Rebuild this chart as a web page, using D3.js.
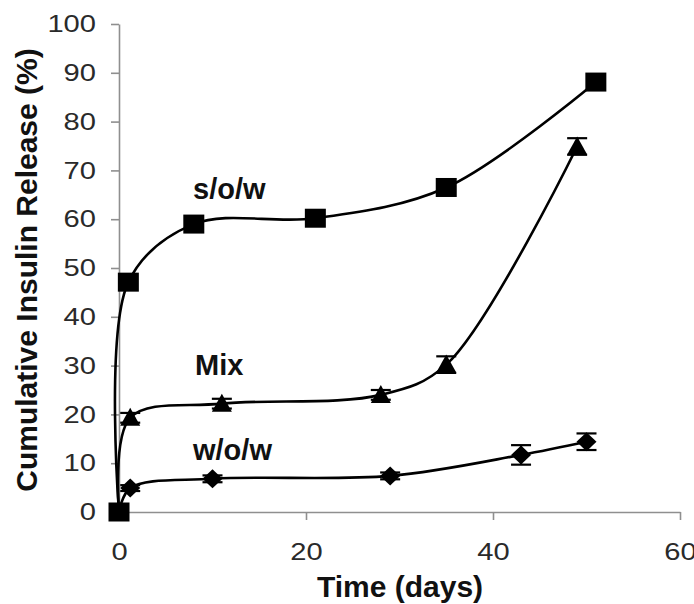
<!DOCTYPE html>
<html>
<head>
<meta charset="utf-8">
<script src="https://cdn.jsdelivr.net/npm/d3@7"></script>
<style>
  html, body { margin: 0; padding: 0; background: #fff; }
  svg { display: block; }
</style>
</head>
<body>
<div id="chart"></div>
<script>
// ---- Data ----
const xTicks = [0, 20, 40, 60];
const yTicks = [0, 10, 20, 30, 40, 50, 60, 70, 80, 90, 100];

const sowDays = [0, 1, 8, 21, 35, 51];
const sowValues = [0, 47.1, 59.0, 60.2, 66.5, 88.1];

const mixDays = [0, 1.2, 11, 28, 35, 49];
const mixValues = [0, 19.3, 22.2, 24.0, 30.2, 74.9];
const mixErrors = [0, 1.0, 1.0, 1.0, 1.7, 1.7];

const wowDays = [0, 1.2, 10, 29, 43, 50];
const wowValues = [0, 4.9, 6.8, 7.4, 11.7, 14.4];
const wowErrors = [0, 0.6, 0.7, 0.7, 2.0, 1.7];

const seriesLabels = ["s/o/w", "Mix", "w/o/w"];

// ---- Layout ----
const W = 694, H = 604;
const svg = d3.select("#chart").append("svg")
  .attr("width", W).attr("height", H)
  .style("font-family", "'Liberation Sans', Arial, sans-serif");

const x = d3.scaleLinear().domain([0, 60]).range([119, 680]);
const y = d3.scaleLinear().domain([0, 100]).range([512, 24]);

const axisColor = "#8f8f8f";
const tickTextColor = "#2a2a2a";

// Y axis
const yAxis = svg.append("g")
  .attr("transform", `translate(${x(0)},0)`)
  .call(d3.axisLeft(y).tickValues(yTicks).tickSize(8).tickSizeOuter(0).tickPadding(15));
// X axis
const xAxis = svg.append("g")
  .attr("transform", `translate(0,${y(0)})`)
  .call(d3.axisBottom(x).tickValues(xTicks).tickSize(8).tickSizeOuter(0).tickPadding(23));

[yAxis, xAxis].forEach(g => {
  g.select(".domain").attr("stroke", axisColor).attr("stroke-width", 1.6);
  g.selectAll(".tick line").attr("stroke", axisColor).attr("stroke-width", 1.6);
  g.selectAll(".tick text")
    .attr("fill", tickTextColor)
    .style("font-size", "24px")
    .style("font-family", "'Liberation Sans', Arial, sans-serif")
    .attr("lengthAdjust", "spacingAndGlyphs")
    .attr("textLength", function() { return this.textContent.length * 16.2; });
});

// Axis titles
svg.append("text")
  .attr("transform", `translate(37,${270}) rotate(-90)`)
  .attr("text-anchor", "middle")
  .style("font-size", "30px").style("font-weight", "bold")
  .attr("fill", "#111")
  .text("Cumulative Insulin Release (%)");

svg.append("text")
  .attr("x", 400).attr("y", 597)
  .attr("text-anchor", "middle")
  .style("font-size", "30px").style("font-weight", "bold")
  .attr("fill", "#111")
  .text("Time (days)");

// ---- Series ----
const line = d3.line()
  .x(d => x(d[0])).y(d => y(d[1]))
  .curve(d3.curveCatmullRom.alpha(0.5));

const series = [
  { days: sowDays, values: sowValues, errors: null, marker: "square" },
  { days: mixDays, values: mixValues, errors: mixErrors, marker: "triangle" },
  { days: wowDays, values: wowValues, errors: wowErrors, marker: "diamond" }
];

const lineG = svg.append("g");
series.forEach(s => {
  lineG.append("path")
    .datum(s.days.map((d, i) => [d, s.values[i]]))
    .attr("d", line)
    .attr("fill", "none")
    .attr("stroke", "#000")
    .attr("stroke-width", 2.6);
});

// error bars
const errG = svg.append("g").attr("stroke", "#000").attr("stroke-width", 2.2);
series.forEach(s => {
  if (!s.errors) return;
  s.days.forEach((d, i) => {
    const e = s.errors[i];
    if (!e) return;
    const cx = x(d), top = y(s.values[i] + e), bot = y(s.values[i] - e);
    errG.append("line").attr("x1", cx).attr("x2", cx).attr("y1", top).attr("y2", bot);
    errG.append("line").attr("x1", cx - 10).attr("x2", cx + 10).attr("y1", top).attr("y2", top);
    errG.append("line").attr("x1", cx - 10).attr("x2", cx + 10).attr("y1", bot).attr("y2", bot);
  });
});

// markers (draw s/o/w last so its square sits on top at the origin)
const markG = svg.append("g").attr("fill", "#000");
[series[2], series[1], series[0]].forEach(s => {
  s.days.forEach((d, i) => {
    if (d === 0 && s.marker !== "square") return;
    const cx = x(d), cy = y(s.values[i]);
    if (s.marker === "square") {
      markG.append("rect").attr("x", cx - 10.5).attr("y", cy - 9.5)
        .attr("width", 21).attr("height", 19);
    } else if (s.marker === "triangle") {
      markG.append("path")
        .attr("d", `M${cx},${cy - 10}L${cx + 10},${cy + 8}L${cx - 10},${cy + 8}Z`);
    } else {
      markG.append("path")
        .attr("d", `M${cx},${cy - 9.5}L${cx + 10},${cy}L${cx},${cy + 9.5}L${cx - 10},${cy}Z`);
    }
  });
});

// series labels
const labelPos = [[193, 199], [195, 375], [193, 460]];
seriesLabels.forEach((t, i) => {
  svg.append("text")
    .attr("x", labelPos[i][0]).attr("y", labelPos[i][1])
    .style("font-size", "29px").style("font-weight", "bold")
    .attr("fill", "#111")
    .text(t);
});
</script>
</body>
</html>
